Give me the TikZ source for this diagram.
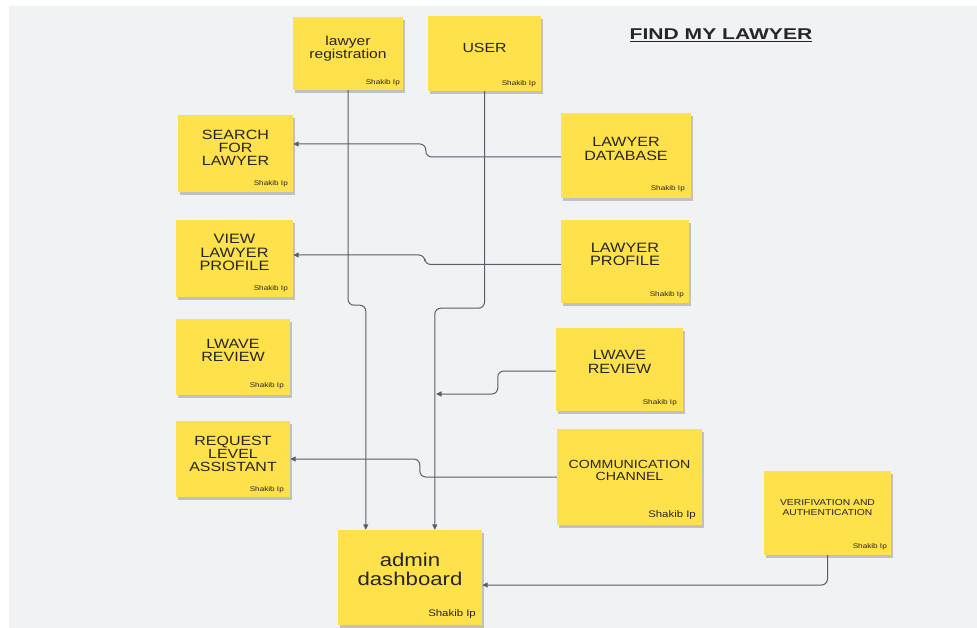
\documentclass[tikz,border=0pt]{standalone}
\usepackage{fontspec}
\setmainfont{Liberation Sans}[FakeStretch=1.2]
\newfontfamily\titlefont{Liberation Sans}[FakeStretch=1.35]
\usetikzlibrary{shadows,arrows.meta,calc}
\definecolor{bgc}{HTML}{F1F2F4}
\definecolor{notey}{HTML}{FFE14B}
\definecolor{lnc}{HTML}{565D6C}
\definecolor{txt}{HTML}{262626}
\tikzset{
 note/.style={fill=notey, draw=none, inner sep=0pt, drop shadow={shadow xshift=2pt, shadow yshift=-3pt, opacity=0.2, fill=black}},
 lbl/.style={text=txt, align=center, inner sep=0pt},
 sig/.style={text=txt, font=\fontsize{6.8}{7}\selectfont, inner sep=0pt, anchor=base east},
 conn/.style={draw=lnc, line width=1pt, rounded corners=6pt, -{Triangle[length=5.5pt,width=5pt]}},
}
\begin{document}
\begin{tikzpicture}[x=1pt,y=-1pt]
\useasboundingbox (0,0) rectangle (977,628);
\fill[white] (0,0) rectangle (977,628);
\fill[bgc] (9,6) rectangle (977,628);

% title
\node[lbl, font=\titlefont\bfseries\fontsize{15.6}{16}\selectfont] (title) at (721,35) {\underline{FIND MY LAWYER}};

% notes
\node[note, minimum width=110pt, minimum height=73pt] (reg) at (348,53.5) {};
\node[lbl, font=\fontsize{13}{13}\selectfont] (regt) at (348,48.5) {lawyer\\registration};
\node[sig] (regs) at (400,84.5) {Shakib Ip};

\node[note, minimum width=113pt, minimum height=75pt] (user) at (484.5,53.5) {};
\node[lbl, font=\fontsize{13.2}{13}\selectfont] (usert) at (484.5,48) {USER};
\node[sig] (users) at (536,85.5) {Shakib Ip};

\node[note, minimum width=115pt, minimum height=77pt] (search) at (235.5,153.5) {};
\node[lbl, font=\fontsize{13.4}{13}\selectfont] (searcht) at (235.5,148) {SEARCH\\FOR\\LAWYER};
\node[sig] (searchs) at (288,185.5) {Shakib Ip};

\node[note, minimum width=130pt, minimum height=85pt] (db) at (626,155.5) {};
\node[lbl, font=\fontsize{13.4}{14}\selectfont] (dbt) at (626,149) {LAWYER\\DATABASE};
\node[sig] (dbs) at (685,190.5) {Shakib Ip};

\node[note, minimum width=117pt, minimum height=77pt] (view) at (234.5,258.5) {};
\node[lbl, font=\fontsize{13.6}{13.5}\selectfont] (viewt) at (234.5,252.5) {VIEW\\LAWYER\\PROFILE};
\node[sig] (views) at (288,290.5) {Shakib Ip};

\node[note, minimum width=128pt, minimum height=83pt] (profile) at (625,261.5) {};
\node[lbl, font=\fontsize{13.6}{13.5}\selectfont] (profilet) at (625,254.5) {LAWYER\\PROFILE};
\node[sig] (profiles) at (684,296.5) {Shakib Ip};

\node[note, minimum width=114pt, minimum height=76pt] (lreview) at (233,357) {};
\node[lbl, font=\fontsize{13.4}{13}\selectfont] (lreviewt) at (233,350.5) {LWAVE\\REVIEW};
\node[sig] (lreviews) at (284,387.5) {Shakib Ip};

\node[note, minimum width=114pt, minimum height=76pt] (request) at (233,459) {};
\node[lbl, font=\fontsize{13.3}{13}\selectfont] (requestt) at (233,454) {REQUEST\\LEVEL\\ASSISTANT};
\node[sig] (requests) at (284,491.5) {Shakib Ip};

\node[note, minimum width=127pt, minimum height=83pt] (rreview) at (619.5,369.5) {};
\node[lbl, font=\fontsize{13.4}{14}\selectfont] (rreviewt) at (619.5,362) {LWAVE\\REVIEW};
\node[sig] (rreviews) at (677,404.5) {Shakib Ip};

\node[note, minimum width=145pt, minimum height=96pt] (comm) at (629.5,477) {};
\node[lbl, font=\fontsize{11.8}{12}\selectfont] (commt) at (629.5,470) {COMMUNICATION\\CHANNEL};
\node[sig, font=\fontsize{9.5}{10}\selectfont] (comms) at (696,517) {Shakib Ip};

\node[note, minimum width=127pt, minimum height=84pt] (verif) at (827.5,513) {};
\node[lbl, font=\fontsize{8.6}{9.5}\selectfont] (veriftt) at (827.5,507.5) {VERIFIVATION AND\\AUTHENTICATION};
\node[sig] (verifs) at (887,548.5) {Shakib Ip};

\node[note, minimum width=144pt, minimum height=95pt] (admin) at (410,577.5) {};
\node[lbl, font=\fontsize{18.5}{19}\selectfont] (admint) at (410,569.5) {admin\\dashboard};
\node[sig, font=\fontsize{9.5}{10}\selectfont] (admins) at (476,616) {Shakib Ip};

% connectors
\coordinate (j1) at (436,394);
\draw[conn] (reg.south) -- ++(0,215) -| ([xshift=28pt]admin.north west);
\draw[conn] (user.south) -- ++(0,217) -| ([xshift=97pt]admin.north west);
\draw[conn] ([yshift=-1.5pt]db.west) -- ++(-135,0) |- ([yshift=9.5pt]search.east);
\draw[conn] ([yshift=-3pt]profile.west) -- ++(-136,0) |- ([yshift=3.5pt]view.east);
\draw[conn] ([yshift=-1.5pt]rreview.west) -- ++(-58,0) |- (j1);
\draw[conn] (comm.west) -- ++(-137,0) |- (request.east);
\draw[conn] (verif.south) |- ([yshift=-7.5pt]admin.east);
\end{tikzpicture}
\end{document}
